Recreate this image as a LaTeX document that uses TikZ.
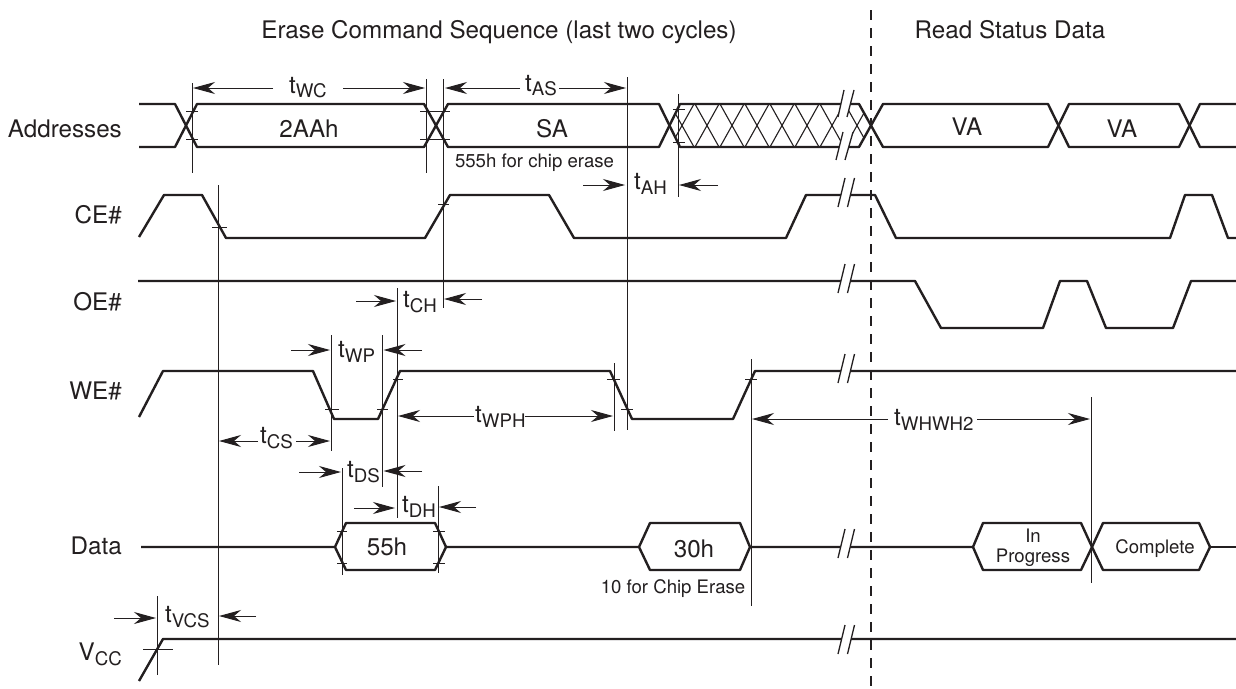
\documentclass[tikz,border=0pt]{standalone}
\usepackage{fontspec}
\setmainfont{TeX Gyre Heros}
\usetikzlibrary{arrows.meta}
\definecolor{ink}{HTML}{231F20}
\newcommand{\tlab}[2][5.5]{t\raisebox{-#1pt}{\fontsize{18.7}{19}\selectfont #2}}
\tikzset{
  sig/.style={draw=ink,line width=2.4pt,line join=round},
  guide/.style={draw=ink,line width=1pt},
  tick/.style={draw=ink,line width=.9pt},
  dim/.style={draw=ink,line width=1pt,-{Stealth[length=22pt,width=12pt,inset=7pt]}},
  slash/.style={draw=ink,line width=1.3pt},
  gap/.style={fill=white,draw=none},
  big/.style={inner sep=0pt,anchor=base,text=ink,font=\fontsize{24.2}{25}\selectfont},
  bigl/.style={big,anchor=base west},
  bigr/.style={big,anchor=base east},
  small/.style={inner sep=0pt,anchor=base,text=ink,font=\fontsize{18.6}{19}\selectfont},
}
\begin{document}
\begin{tikzpicture}[x=1pt,y=-1pt]
\useasboundingbox (0,0) rectangle (1236,688);
\fill[white] (0,0) rectangle (1236,688);

% headings
\node[big] (title) at (499,38) {Erase Command Sequence (last two cycles)};
\node[big] (read) at (1010,38) {Read Status Data};

% row labels
\node[bigr] (lAddr) at (122,137) {Addresses};
\node[bigr] (lCE) at (122,223) {CE\#};
\node[bigr] (lOE) at (122,310) {OE\#};
\node[bigr] (lWE) at (122,399) {WE\#};
\node[bigr] (lData) at (122,554) {Data};
\node[bigr] (lVcc) at (122,660) {V\raisebox{-5.5pt}{\fontsize{18.7}{19}\selectfont CC}};

% hatching of the don't-care span
\begin{scope}
\clip (680,104) -- (859,104) -- (871,125.5) -- (859,147) -- (680,147) -- (669.5,125.5) -- cycle;
\foreach \c in {682,707,732,757,782,807,832,857}{
  \draw[draw=ink,line width=1.1pt] (\c-12,104) -- (\c+12,147);
  \draw[draw=ink,line width=1.1pt] (\c+12,104) -- (\c-12,147);
}
\end{scope}

% signals
\draw[sig] (139,104) -- (175,104) -- (197,147) -- (424,147) -- (448,104) -- (659,104) -- (680,147) -- (859,147) -- (883,104) -- (1048,104) -- (1069,147) -- (1179,147) -- (1200,104) -- (1236,104);
\draw[sig] (139,147) -- (175,147) -- (197,104) -- (424,104) -- (448,147) -- (659,147) -- (680,104) -- (859,104) -- (883,147) -- (1048,147) -- (1069,104) -- (1179,104) -- (1200,147) -- (1236,147);
\draw[sig] (139,237) -- (164,195) -- (202,195) -- (226,238) -- (425,238) -- (450,195) -- (549,195) -- (574,238) -- (786,238) -- (806,195) -- (875,195) -- (896,238) -- (1170,238) -- (1185,195) -- (1212,195) -- (1228,238) -- (1236,238);
\draw[sig] (138,281) -- (915,281) -- (941,328) -- (1043,328) -- (1060,281) -- (1087,281) -- (1106,328) -- (1173,328) -- (1191,281) -- (1236,281);
\draw[sig] (139,417) -- (163,371) -- (313,371) -- (334,419) -- (378,419) -- (400,371) -- (610,371) -- (632,419) -- (733,419) -- (755,371) -- (1236,371);
\draw[sig] (141,547) -- (335,547) -- (346,523) -- (435,523) -- (446,547) -- (435,570) -- (346,570) -- (335,547);
\draw[sig] (446,547) -- (639,547) -- (650,523) -- (740,523) -- (750,547) -- (740,570) -- (650,570) -- (639,547);
\draw[sig] (750,547) -- (973,547) -- (983,523) -- (1081,523) -- (1092,547) -- (1081,570) -- (983,570) -- (973,547);
\draw[sig] (1092,547) -- (1103,523) -- (1199,523) -- (1210,547) -- (1199,570) -- (1103,570) -- (1092,547);
\draw[sig] (1210,547) -- (1236,547);
\draw[sig] (139,681) -- (163,639) -- (1236,639);

% breaks
\fill[gap] (844,90) -- (854,90) -- (847,117) -- (853,132) -- (845,160) -- (836,160) -- (843,132) -- (838,117) -- cycle;
\draw[slash] (844,90) -- (838,117);
\draw[slash] (854,90) -- (847,117);
\draw[slash] (843,132) -- (836,160);
\draw[slash] (853,132) -- (845,160);
\foreach \y in {178,264,354,529,625}{
  \fill[gap] (845,\y) -- (854.5,\y) -- (847.5,\y+29) -- (838,\y+29) -- cycle;
  \draw[slash] (845,\y) -- (838,\y+29);
  \draw[slash] (854.5,\y) -- (847.5,\y+29);
}

% guide lines
\draw[guide] (192,83) -- (192,173);
\draw[guide] (426,79) -- (426,173);
\draw[guide] (443,79) -- (443,308);
\draw[guide] (218,185) -- (218,665);
\draw[guide] (627,77) -- (627,430);
\draw[guide] (678,94) -- (678,197);
\draw[guide] (397,288) -- (397,518);
\draw[guide] (331,335) -- (331,451);
\draw[guide] (382,335) -- (382,487);
\draw[guide] (342,468) -- (342,575);
\draw[guide] (438,486) -- (438,573);
\draw[guide] (614,363) -- (614,431);
\draw[guide] (751,359) -- (751,606);
\draw[guide] (1091,397) -- (1091,583);
\draw[guide] (157,596) -- (157,675);

% section divider
\draw[draw=ink,line width=1.3pt,dash pattern=on 10pt off 8pt] (871,10) -- (871,688);

% ticks
\draw[tick] (186,111) -- (198,111);
\draw[tick] (186,139) -- (198,139);
\draw[tick] (420,111) -- (450,111);
\draw[tick] (420,139) -- (450,139);
\draw[tick] (673,109) -- (685,109);
\draw[tick] (673,142) -- (685,142);
\draw[tick] (212,227) -- (227,227);
\draw[tick] (438,204) -- (449,204);
\draw[tick] (325,409) -- (339,409);
\draw[tick] (377,409) -- (388,409);
\draw[tick] (393,379) -- (403,379);
\draw[tick] (607,379) -- (620,379);
\draw[tick] (621,409) -- (633,409);
\draw[tick] (745,379) -- (757,379);
\draw[tick] (337,531) -- (347,531);
\draw[tick] (337,563) -- (347,563);
\draw[tick] (433,531) -- (445,531);
\draw[tick] (433,563) -- (445,563);
\draw[tick] (143,649) -- (173,649);

% dimension arrows
\draw[dim] (273,88) -- (193,88);
\draw[dim] (343,88) -- (425,88);
\draw[dim] (520,88) -- (445,88);
\draw[dim] (559,88) -- (626,88);
\draw[dim] (583,185) -- (625,185);
\draw[dim] (718,185) -- (679,185);
\draw[dim] (356,301) -- (396,301);
\draw[dim] (482,299) -- (444,299);
\draw[dim] (291,350) -- (330,350);
\draw[dim] (422,350) -- (383.5,350);
\draw[dim] (474,416) -- (398,416);
\draw[dim] (525,416) -- (613,416);
\draw[dim] (258,441) -- (219,441);
\draw[dim] (296,441) -- (330,441);
\draw[dim] (299,472) -- (341,472);
\draw[dim] (422,471) -- (383.5,471);
\draw[dim] (354,508) -- (395,508);
\draw[dim] (476,507) -- (439,507);
\draw[dim] (888,419) -- (752,419);
\draw[dim] (977,419) -- (1090,419);
\draw[dim] (114,618) -- (156,618);
\draw[dim] (256,616) -- (219,616);

% timing labels
\node[bigl] (tWC) at (289,93) {\tlab[4.5]{WC}};
\node[bigl] (tAS) at (525,91) {\tlab[4.5]{AS}};
\node[bigl] (tAH) at (634,189) {\tlab{AH}};
\node[bigl] (tCH) at (403,307) {\tlab{CH}};
\node[bigl] (tWP) at (338,357) {\tlab{WP}};
\node[bigl] (tWPH) at (475,422) {\tlab{WPH}};
\node[bigl] (tCS) at (260,443) {\tlab{CS}};
\node[bigl] (tDS) at (347,477) {\tlab{DS}};
\node[bigl] (tDH) at (402,512) {\tlab{DH}};
\node[bigl] (tWHWH) at (894,425) {\tlab{WHWH2}};
\node[bigl] (tVCS) at (165,622) {\tlab{VCS}};

% values
\node[big] (v2AA) at (309,137) {2AAh};
\node[big] (vSA) at (552,137) {SA};
\node[small] (n555) at (534.5,167) {555h for chip erase};
\node[big] (vVA1) at (967,135) {VA};
\node[big] (vVA2) at (1122,137) {VA};
\node[big] (v55) at (387,555) {55h};
\node[big] (v30) at (694,557) {30h};
\node[small] (n10) at (673,593) {10 for Chip Erase};
\node[small] (vIn) at (1033,542) {In};
\node[small] (vPr) at (1033,562) {Progress};
\node[small] (vCo) at (1155,553) {Complete};
\end{tikzpicture}
\end{document}
